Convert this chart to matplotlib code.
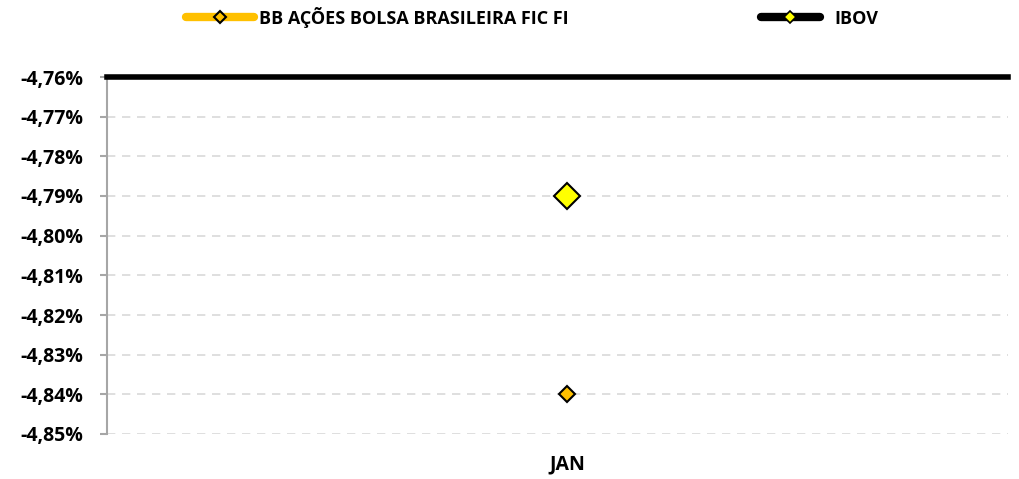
import matplotlib.pyplot as plt
from matplotlib.lines import Line2D
from matplotlib.ticker import FuncFormatter
import numpy as np

# data
categories = ['JAN']
fund_name = 'BB AÇÕES BOLSA BRASILEIRA FIC FI'
fund_values = [-4.84]
ibov_name = 'IBOV'
ibov_values = [-4.79]
y_ticks = np.round(np.arange(-4.85, -4.755, 0.01), 2)

plt.rcParams['font.family'] = ['Open Sans', 'DejaVu Sans']

fig = plt.figure(figsize=(10.19, 4.79), dpi=100)
ax = fig.add_axes([107 / 1019, 1 - 434 / 479, 901 / 1019, 357 / 479])

x = np.arange(len(categories))

# series
ax.plot(x, ibov_values, color='black', lw=4, marker='D', markersize=13,
        markerfacecolor='#FFFF00', markeredgecolor='black', markeredgewidth=1.5,
        zorder=4)
ax.plot(x, fund_values, color='#FFC000', lw=4, marker='D', markersize=8,
        markerfacecolor='#FFC000', markeredgecolor='black', markeredgewidth=1.5,
        zorder=4)

ax.set_ylim(y_ticks[0], y_ticks[-1])
ax.set_yticks(y_ticks)
ax.yaxis.set_major_formatter(FuncFormatter(lambda v, p: f'{v:.2f}%'.replace('.', ',')))
ax.set_xlim(-0.5105, 0.4895)
ax.set_xticks(x)
ax.set_xticklabels(categories)

ax.grid(axis='y', color='#D9D9D9', linestyle=(0, (5, 4)), linewidth=1.2)
ax.set_axisbelow(True)

for s in ['right', 'bottom']:
    ax.spines[s].set_visible(False)
ax.spines['left'].set_color('#A6A6A6')
ax.spines['left'].set_linewidth(1.5)
ax.spines['top'].set_color('black')
ax.spines['top'].set_linewidth(4)

ax.tick_params(axis='y', length=5, width=1.5, color='#A6A6A6', pad=12,
               labelsize=14)
ax.tick_params(axis='x', length=0, pad=15, labelsize=14)
for lbl in ax.get_yticklabels() + ax.get_xticklabels():
    lbl.set_fontweight('bold')

# legend (two entries, placed separately like the original)
fund_handle = Line2D([], [], color='#FFC000', lw=6, marker='D', markersize=6,
                     markerfacecolor='#FFC000', markeredgecolor='black',
                     markeredgewidth=1.5, solid_capstyle='round')
ibov_handle = Line2D([], [], color='black', lw=6, marker='D', markersize=6,
                     markerfacecolor='#FFFF00', markeredgecolor='black',
                     markeredgewidth=1.2, solid_capstyle='round')
leg_font = {'weight': 'bold', 'size': 13}
fig.legend([fund_handle], [fund_name], loc='center left',
           bbox_to_anchor=(186 / 1019, 1 - 17 / 479), frameon=False,
           borderpad=0, borderaxespad=0, handlelength=3.75,
           handletextpad=0.3, prop=leg_font)
fig.legend([ibov_handle], [ibov_name], loc='center left',
           bbox_to_anchor=(761 / 1019, 1 - 18.5 / 479), frameon=False,
           borderpad=0, borderaxespad=0, handlelength=3.25,
           handletextpad=0.8, prop=leg_font)

fig.savefig('out.png', dpi=100)
